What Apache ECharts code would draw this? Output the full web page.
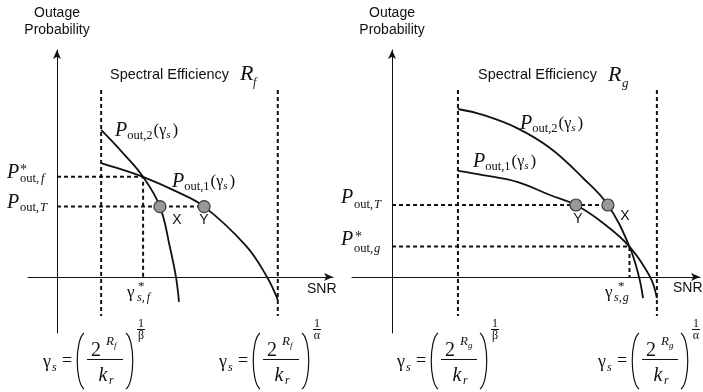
<!DOCTYPE html>
<html>
<head>
<meta charset="utf-8">
<title>Outage probability vs SNR</title>
<script src="https://cdn.jsdelivr.net/npm/echarts@6/dist/echarts.min.js"></script>
<style>
  html, body { margin: 0; padding: 0; background: #fff; }
  #chart { width: 703px; height: 392px; }
</style>
</head>
<body>
<div id="chart"></div>
<script>
// schematic units: SNR 0..100 along x, outage 0..100 along y

// panel 1 : spectral efficiency R_f
var boundsF = [16, 80];              // SNR where the two curves start / end
var boundSpanF = [82.4, -17.2];      // vertical extent of the dashed bounds
var p2SnrF = [16, 23.9, 31.2, 37.3, 40.9, 43.1, 44.2];
var p2OutF = [64.8, 54.6, 44.1, 31, 13.2, 0, -11];
var p1SnrF = [16, 22.8, 31.2, 42.8, 53.3, 68.5, 76.1, 80];
var p1OutF = [50.2, 47.6, 44.1, 37.9, 31, 13.7, 0, -10.1];
var targetF = 31;                    // P_out,T
var crossF = [31.2, 44.1];           // (gamma*_s,f , P*_out,f)
var pointSnrF = [37.3, 53.3];        // X, Y

// panel 2 : spectral efficiency R_g
var boundsG = [21.4, 86];
var boundSpanG = [82.4, -17.2];
var p2SnrG = [21.4, 29.5, 40.6, 51.3, 62, 70.1, 77.1, 80.2, 81.5];
var p2OutG = [74, 71.4, 65.6, 56.8, 43.6, 31.7, 13.4, 0, -9.3];
var p1SnrG = [21.4, 29.5, 40.6, 51.3, 59.7, 68.5, 77.1, 83.8, 86];
var p1OutG = [46.7, 44.9, 41.9, 36.1, 31.7, 23.8, 13.4, 0, -9.3];
var targetG = 31.7;
var crossG = [77.1, 13.4];
var pointSnrG = [70.1, 59.7];        // X, Y

var INK = '#111';
var SERIF = '"Liberation Serif", "DejaVu Serif", serif';
var SANS = '"Liberation Sans", "DejaVu Sans", sans-serif';

function xy(xs, ys) {
  return xs.map(function (x, i) { return [x, ys[i]]; });
}

function lineSeries(k, data, dashed, smooth) {
  return {
    type: 'line', xAxisIndex: k, yAxisIndex: k, data: data,
    symbol: 'none', smooth: smooth ? 0.4 : false,
    silent: true, z: dashed ? 2 : 3,
    lineStyle: { color: INK, width: dashed ? 2 : 1.8, type: dashed ? [4, 3] : 'solid' }
  };
}

function panel(k, bounds, span, p2x, p2y, p1x, p1y, target, cross, pts) {
  var s = [];
  bounds.forEach(function (b) {
    s.push(lineSeries(k, [[b, span[0]], [b, span[1]]], true));
  });
  s.push(lineSeries(k, [[0, target], [Math.max.apply(null, pts), target]], true));
  s.push(lineSeries(k, [[0, cross[1]], [cross[0], cross[1]], [cross[0], 0]], true));
  s.push(lineSeries(k, xy(p2x, p2y), false, true));
  s.push(lineSeries(k, xy(p1x, p1y), false, true));
  s.push({
    type: 'scatter', xAxisIndex: k, yAxisIndex: k, silent: true, z: 5,
    data: pts.map(function (x) { return [x, target]; }),
    symbolSize: 12,
    itemStyle: { color: '#999', borderColor: '#3c3c3c', borderWidth: 1.2, opacity: 1 }
  });
  return s;
}

function axis(k, min, max) {
  return {
    gridIndex: k, type: 'value', min: min, max: max,
    axisLine: { onZero: true, symbol: ['none', 'arrow'], symbolSize: [6, 9], lineStyle: { color: INK, width: 1 } },
    axisTick: { show: false }, axisLabel: { show: false }, splitLine: { show: false }
  };
}

// ---- text helpers ----
var ruler = document.createElement('canvas').getContext('2d');

function txt(x, y, s, size, opt) {
  opt = opt || {};
  var al = opt.align || 'left';
  return {
    type: 'text', x: x, y: y, z: 20, silent: true,
    style: {
      text: s, fill: INK, fontSize: size,
      fontFamily: opt.family || SERIF,
      fontStyle: opt.italic ? 'italic' : 'normal',
      textAlign: al, align: al,
      textVerticalAlign: 'middle', verticalAlign: 'middle'
    }
  };
}

// pieces left to right: [text, size, italic, dy, extra gap]
function run(x, y, parts) {
  var out = [];
  parts.forEach(function (p) {
    out.push(txt(x, y + (p[3] || 0), p[0], p[1], { italic: p[2] }));
    ruler.font = (p[2] ? 'italic ' : '') + p[1] + 'px ' + SERIF;
    x += ruler.measureText(p[0]).width + (p[4] || 0);
  });
  return out;
}

function pOut(x, y, idx) {
  return run(x, y, [['P', 20, true, 0, 0], ['out,' + idx, 12.5, false, 5, 1],
    ['(', 17, false, 0], ['γ', 16, false, 0], ['s', 11, true, 4, 2], [')', 17, false, 0]]);
}

function rule(x1, x2, y) {
  return { type: 'line', z: 20, silent: true, shape: { x1: x1, y1: y, x2: x2, y2: y },
    style: { stroke: INK, lineWidth: 1 } };
}

function paren(x, dir) {
  return { type: 'bezierCurve', z: 20, silent: true,
    shape: { x1: x, y1: 333, cpx1: x + dir * 9, cpy1: 340, cpx2: x + dir * 9, cpy2: 382, x2: x, y2: 389 },
    style: { stroke: INK, lineWidth: 1.2, fill: null } };
}

function formula(cx, rate, root) {
  return [
    txt(cx - 58, 362, 'γ', 18, { align: 'center' }),
    txt(cx - 53, 368, 's', 12, { italic: true }),
    txt(cx - 38, 361, '=', 18, { align: 'center' }),
    paren(cx - 21, -1), paren(cx + 21, 1),
    txt(cx - 9, 351, '2', 20, { align: 'center' }),
    txt(cx + 1, 342, 'R', 13, { italic: true }),
    txt(cx + 9, 346, rate, 9, { italic: true }),
    rule(cx - 18, cx + 18, 359.5),
    txt(cx - 2, 376, 'k', 20, { italic: true, align: 'center' }),
    txt(cx + 4, 381, 'r', 12, { italic: true }),
    txt(cx + 36, 324, '1', 12, { align: 'center' }),
    rule(cx + 32, cx + 40, 329.5),
    txt(cx + 36, 336, root, 12, { align: 'center' })
  ];
}

var labels = [].concat(
  // left panel
  txt(57, 13, 'Outage', 14, { family: SANS, align: 'center' }),
  txt(57, 30, 'Probability', 14, { family: SANS, align: 'center' }),
  txt(110, 75, 'Spectral Efficiency', 14.5, { family: SANS }),
  txt(240, 74, 'R', 22, { italic: true }),
  txt(253, 83, 'f', 12, { italic: true }),
  pOut(115, 131, '2'),
  pOut(172, 182, '1'),
  txt(7, 173, 'P', 20, { italic: true }),
  txt(20, 170, '*', 14),
  run(20, 179, [['out,', 12.5, false, 0, 2], ['f', 12.5, true]]),
  txt(7, 203, 'P', 20, { italic: true }),
  run(20, 208, [['out,', 12.5, false, 0, 1], ['T', 12.5, true]]),
  txt(177, 220, 'X', 14, { family: SANS, align: 'center' }),
  txt(204, 220, 'Y', 14, { family: SANS, align: 'center' }),
  txt(127, 293, 'γ', 17),
  txt(138, 287, '*', 13),
  run(137, 298, [['s', 12, true], [',', 12, false, 0, 2], ['f', 12, true]]),
  txt(307, 289, 'SNR', 14, { family: SANS }),
  formula(105, 'f', 'β'),
  formula(281, 'f', 'α'),
  // right panel
  txt(392, 13, 'Outage', 14, { family: SANS, align: 'center' }),
  txt(392, 30, 'Probability', 14, { family: SANS, align: 'center' }),
  txt(478, 75, 'Spectral Efficiency', 14.5, { family: SANS }),
  txt(608, 75, 'R', 22, { italic: true }),
  txt(622, 84, 'g', 13, { italic: true }),
  pOut(520, 124, '2'),
  pOut(473, 162, '1'),
  txt(341, 198, 'P', 20, { italic: true }),
  run(354, 205, [['out,', 12.5, false, 0, 1], ['T', 12.5, true]]),
  txt(341, 240, 'P', 20, { italic: true }),
  txt(355, 237, '*', 14),
  run(354, 249, [['out,', 12.5, false, 0, 1], ['g', 12.5, true]]),
  txt(578, 219, 'Y', 14, { family: SANS, align: 'center' }),
  txt(625, 216, 'X', 14, { family: SANS, align: 'center' }),
  txt(605, 293, 'γ', 17),
  txt(618, 287, '*', 13),
  run(614, 298, [['s', 12, true], [',', 12, false, 0, 1], ['g', 12, true]]),
  txt(673, 288, 'SNR', 14, { family: SANS }),
  formula(459, 'g', 'β'),
  formula(660, 'g', 'α')
);

var chart = echarts.init(document.getElementById('chart'));
chart.setOption({
  animation: false,
  backgroundColor: '#fff',
  grid: [
    { left: 28, top: 50, width: 305, height: 283 },
    { left: 352, top: 50, width: 348, height: 283 }
  ],
  xAxis: [axis(0, -10.5, 100), axis(1, -13, 100)],
  yAxis: [axis(0, -24.7, 100), axis(1, -24.7, 100)],
  series: [].concat(
    panel(0, boundsF, boundSpanF, p2SnrF, p2OutF, p1SnrF, p1OutF, targetF, crossF, pointSnrF),
    panel(1, boundsG, boundSpanG, p2SnrG, p2OutG, p1SnrG, p1OutG, targetG, crossG, pointSnrG)
  ),
  graphic: labels
});
</script>
</body>
</html>
